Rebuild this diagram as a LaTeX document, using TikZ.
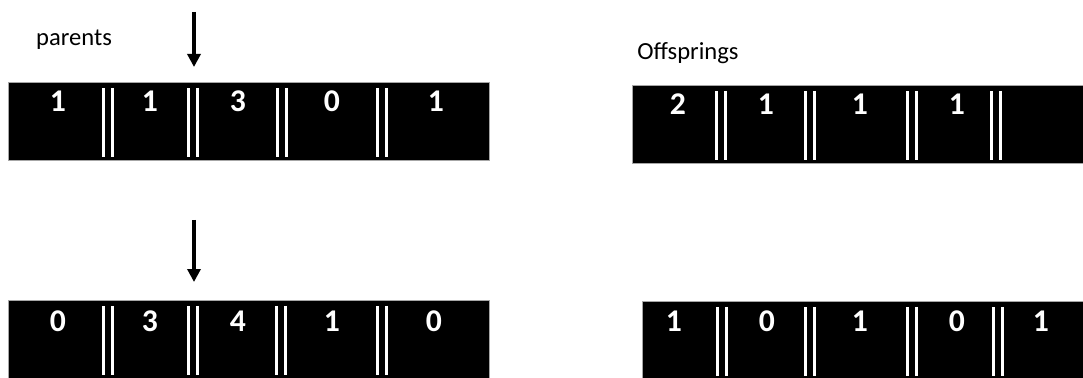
\documentclass[tikz,border=0pt]{standalone}
\usepackage{fontspec}
\setmainfont{Carlito}
\usepackage{tikz}
\usetikzlibrary{arrows.meta}

\begin{document}
\begin{tikzpicture}[
			x=0.02cm, y=-0.02cm,
			chrom/.style={rectangle, draw=gray!70, fill=black, inner sep=0pt, anchor=north west, minimum height=1.56cm},
			gene/.style={text=white, font=\fontsize{18}{18}\selectfont\bfseries, inner sep=0pt},
			sep/.style={draw=white, line width=0.07cm, double=black, double distance=0.11cm},
			heading/.style={font=\fontsize{14}{15}\selectfont, inner sep=0pt},
			arrow/.style={-{Triangle[width=0.26cm, length=0.26cm]}, line width=2pt}
			]
			\useasboundingbox (0,0) rectangle (1083,378);
			
			% Labels
			\node (parlabel) [heading] at (74,40) {parents};
			\node (offlabel) [heading] at (688,53) {Offsprings};
			
			% Parent Nodes
			\node (par1) [chrom, minimum width=9.62cm] at (8,82) {};
			\node (par2) [chrom, minimum width=9.62cm] at (8,300) {};
			
			% Offspring Nodes
			\node (off1) [chrom, minimum width=9.02cm] at (632,85) {};
			\node (off2) [chrom, minimum width=8.82cm] at (642,301) {};
			
			% Separators
			\draw [sep] (108,88) -- (108,157);
			\draw [sep] (193,88) -- (193,157);
			\draw [sep] (282,88) -- (282,157);
			\draw [sep] (382,88) -- (382,157);
			\draw [sep] (108,306) -- (108,375);
			\draw [sep] (193,306) -- (193,375);
			\draw [sep] (281,306) -- (281,375);
			\draw [sep] (382,306) -- (382,375);
			\draw [sep] (721,91) -- (721,160);
			\draw [sep] (810,91) -- (810,160);
			\draw [sep] (912,91) -- (912,160);
			\draw [sep] (996,91) -- (996,160);
			\draw [sep] (722,307) -- (722,376);
			\draw [sep] (810,307) -- (810,376);
			\draw [sep] (912,307) -- (912,376);
			\draw [sep] (998,307) -- (998,376);
			
			% Genes Parents
			\node (p1g1) [gene] at (58,101) {1};
			\node (p1g2) [gene] at (150,101) {1};
			\node (p1g3) [gene] at (238,101) {3};
			\node (p1g4) [gene] at (332,101) {0};
			\node (p1g5) [gene] at (436,101) {1};
			\node (p2g1) [gene] at (58,321) {0};
			\node (p2g2) [gene] at (150,321) {3};
			\node (p2g3) [gene] at (238,321) {4};
			\node (p2g4) [gene] at (332,321) {1};
			\node (p2g5) [gene] at (434,321) {0};
			
			% Genes Offsprings
			\node (o1g1) [gene] at (678,104) {2};
			\node (o1g2) [gene] at (766,104) {1};
			\node (o1g3) [gene] at (860,104) {1};
			\node (o1g4) [gene] at (957,104) {1};
			\node (o2g1) [gene] at (674,321) {1};
			\node (o2g2) [gene] at (767,321) {0};
			\node (o2g3) [gene] at (860,321) {1};
			\node (o2g4) [gene] at (957,321) {0};
			\node (o2g5) [gene] at (1041,321) {1};
			
			% Crossover point arrows
			\coordinate (cut1from) at (194,12);
			\coordinate (cut1to) at (194,67);
			\coordinate (cut2from) at (194,220);
			\coordinate (cut2to) at (194,282);
			\draw [arrow] (cut1from) -- (cut1to);
			\draw [arrow] (cut2from) -- (cut2to);
		\end{tikzpicture}
\end{document}
